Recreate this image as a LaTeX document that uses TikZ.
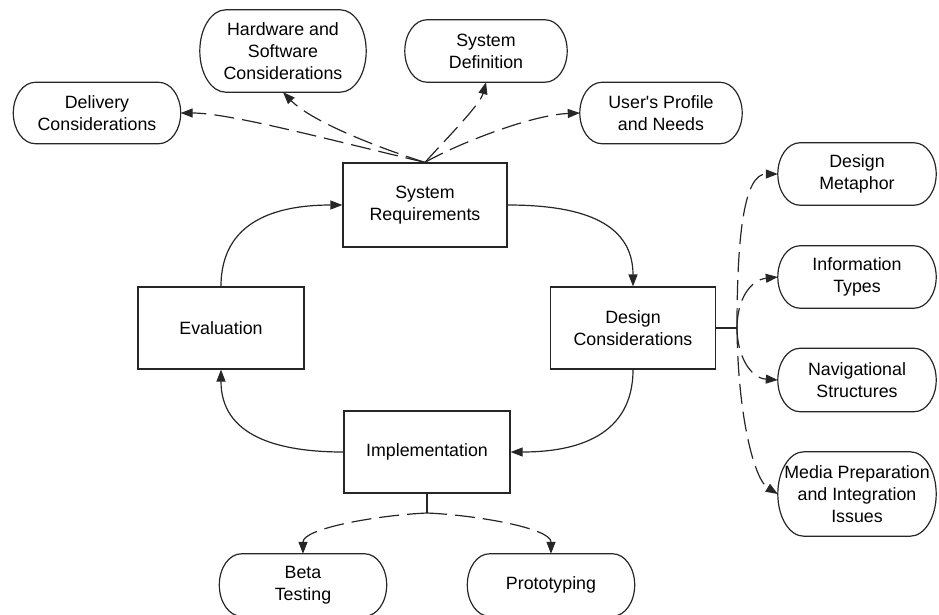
\documentclass[tikz,border=0pt]{standalone}
\usepackage{fontspec}
\setmainfont{Liberation Sans}
\usetikzlibrary{arrows.meta,calc}
\newcommand\stadline[2]{%
  \draw[outl] let \p1=(#1.north east), \p2=(#1.south west), \n1={(\y1-\y2)/2} in
    (\x2+#2,\y1) -- (\x1-#2,\y1)
    arc[start angle=90,end angle=-90,x radius=#2,y radius=\n1]
    -- (\x2+#2,\y2)
    arc[start angle=270,end angle=90,x radius=#2,y radius=\n1] -- cycle;}
\begin{document}
\begin{tikzpicture}[x=1pt,y=1pt,
  font=\fontsize{17.8}{21.8}\selectfont,
  box/.style={draw=black!85,line width=1.2pt,align=center,inner sep=0pt},
  stad/.style={align=center,inner sep=0pt},
  outl/.style={draw=black!85,line width=1.2pt},
  link/.style={draw=black!85,line width=1.2pt},
  flow/.style={draw=black!85,line width=1.2pt,-{Triangle[length=12pt,width=9pt]}},
  dflow/.style={flow,dash pattern=on 20pt off 8pt}]
\useasboundingbox (0,0) rectangle (939,-614);
% process boxes
\node[box,minimum width=164pt,minimum height=84pt] (sr) at (425,-205) {System\\Requirements};
\node[box,minimum width=166pt,minimum height=82pt] (ev) at (221,-328) {Evaluation};
\node[box,minimum width=166pt,minimum height=82pt] (im) at (427,-452) {Implementation};
\node[box,minimum width=165pt,minimum height=82pt] (dc) at (633,-328) {Design\\Considerations};
% rounded topics
\node[stad,minimum width=166pt,minimum height=82pt] (hw) at (283,-51) {Hardware and\\Software\\Considerations};
\node[stad,minimum width=162pt,minimum height=62pt] (sd) at (486,-51) {System\\Definition};
\node[stad,minimum width=167pt,minimum height=61pt] (dl) at (97,-113) {Delivery\\Considerations};
\node[stad,minimum width=162pt,minimum height=61pt] (up) at (661,-113) {User\textquotesingle s Profile\\and Needs};
\node[stad,minimum width=158pt,minimum height=62pt] (dm) at (857,-174) {Design\\Metaphor};
\node[stad,minimum width=158pt,minimum height=62pt] (it) at (857,-277) {Information\\Types};
\node[stad,minimum width=158pt,minimum height=63pt] (ns) at (857,-380) {Navigational\\Structures};
\node[stad,minimum width=158pt,minimum height=84pt] (mp) at (857,-494) {Media Preparation\\and Integration\\Issues};
\node[stad,minimum width=167pt,minimum height=62pt] (bt) at (303,-585) {Beta\\Testing};
\node[stad,minimum width=167pt,minimum height=62pt] (pt) at (551,-585) {Prototyping};
\stadline{hw}{26pt}
\stadline{sd}{22pt}
\stadline{dl}{22pt}
\stadline{up}{22pt}
\stadline{dm}{22pt}
\stadline{it}{22pt}
\stadline{ns}{22pt}
\stadline{mp}{26pt}
\stadline{bt}{22pt}
\stadline{pt}{22pt}
% main cycle
\draw[flow] (sr.east) to[out=0,in=90,looseness=1.15] (dc.north);
\draw[flow] (dc.south) to[out=-90,in=0,looseness=1.15] (im.east);
\draw[flow] (im.west) to[out=180,in=-90,looseness=1.15] (ev.south);
\draw[flow] (ev.north) to[out=90,in=180,looseness=1.15] (sr.west);
% top fan
\draw[dflow] (sr.north) .. controls (330,-140) and (230,-113) .. (dl.east);
\draw[dflow] (sr.north) .. controls (370,-145) and (310,-120) .. (hw.south);
\draw[dflow] (sr.north) .. controls (445,-140) and (480,-105) .. (sd.south);
\draw[dflow] (sr.north) .. controls (455,-145) and (530,-115) .. (up.west);
% right fan
\coordinate (rj) at (737,-328);
\draw[link] (dc.east) -- (rj);
\draw[dflow] (rj) .. controls (737,-230) and (745,-174) .. (dm.west);
\draw[dflow] (rj) .. controls (737,-300) and (750,-280) .. (it.west);
\draw[dflow] (rj) .. controls (737,-355) and (750,-378) .. (ns.west);
\draw[dflow] (rj) .. controls (738,-420) and (755,-480) .. (mp.west);
% bottom fan
\coordinate (bj) at (427,-513);
\draw[link] (im.south) -- (bj);
\draw[dflow] (bj) .. controls (380,-515) and (303,-528) .. (bt.north);
\draw[dflow] (bj) .. controls (475,-515) and (551,-528) .. (pt.north);
\end{tikzpicture}
\end{document}
